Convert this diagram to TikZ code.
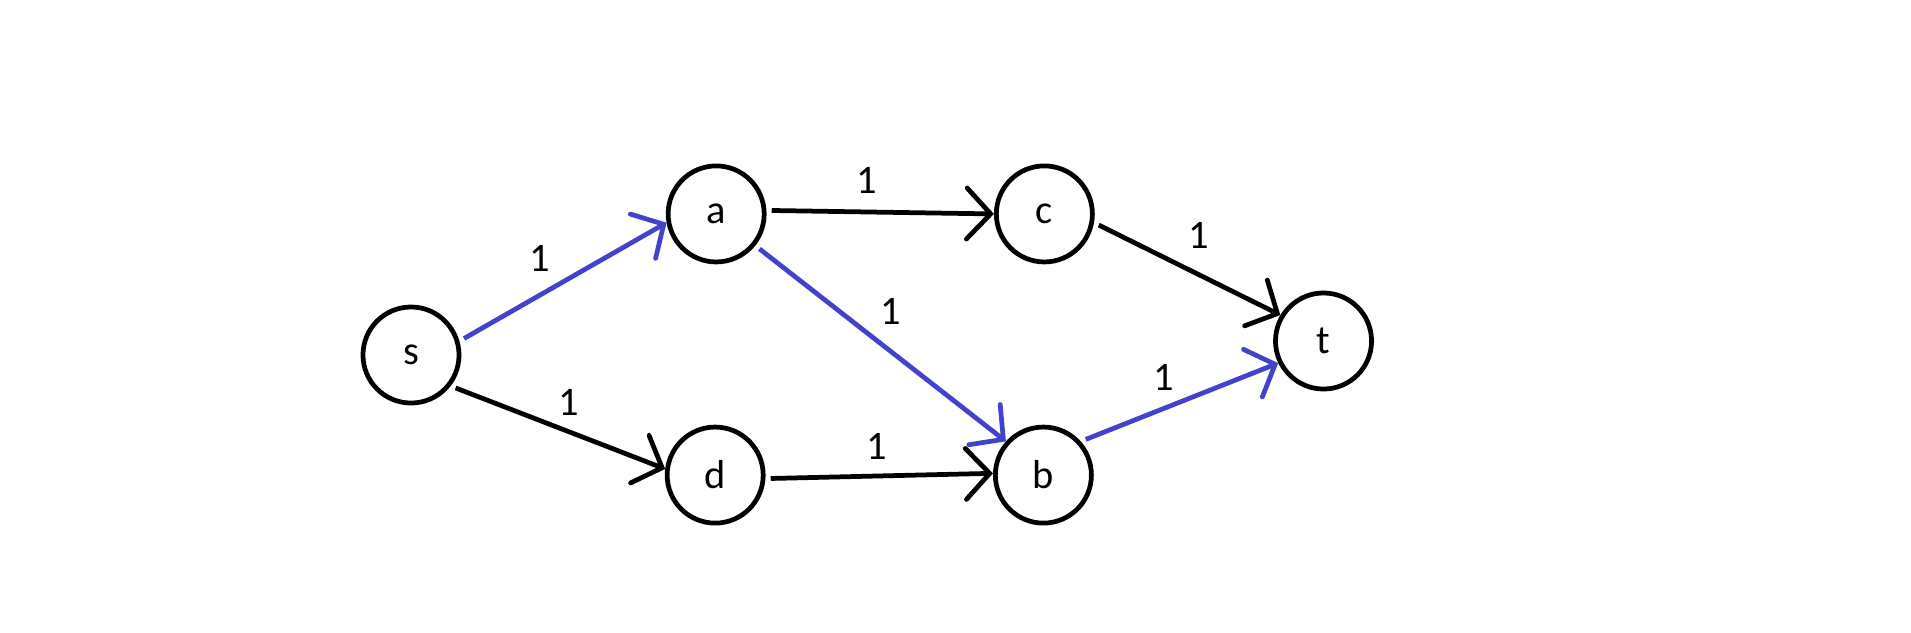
\documentclass[tikz,border=0pt]{standalone}
\usepackage{fontspec}
\setmainfont{Carlito}
\usetikzlibrary{positioning,arrows.meta}

\definecolor{pathblue}{RGB}{66,66,204}

\begin{document}
\begin{tikzpicture}[
  x=0.01cm, y=-0.01cm,
  vertex/.style={draw, circle, line width=1.35pt, minimum size=0.96cm, inner sep=0pt, font=\fontsize{11.5}{13}\selectfont},
  edge/.style={line width=1.35pt, shorten <=1.5pt, -{Straight Barb[length=6.8pt, width=14.5pt, line cap=round]}},
  flow/.style={edge, draw=pathblue},
  weight/.style={inner sep=2pt, font=\fontsize{11.5}{13}\selectfont}
]
\path[use as bounding box, fill=white] (0,0) rectangle (1911,632);

\node[vertex] (s) at (411,355) {s};
\node[vertex, on grid, above right=1.41cm and 3.05cm of s] (a) {a};
\node[vertex, on grid, below right=1.20cm and 3.04cm of s] (d) {d};
\node[vertex, on grid, right=3.28cm of a] (c) {c};
\node[vertex, on grid, right=3.28cm of d] (b) {b};
\node[vertex, on grid, below right=1.27cm and 2.79cm of c] (t) {t};

\draw[flow] (s.16) -- (a.190) node[weight, pos=0.39, above=4pt] {1};
\draw[edge] (s.-38) -- (d.173) node[weight, pos=0.55, above=2pt] {1};
\draw[edge] (a.4) -- (c.west) node[weight, pos=0.44, above=2.5pt] {1};
\draw[flow] (a.-39) -- (b.138) node[weight, pos=0.54, above=5pt] {1};
\draw[edge] (c.-10) -- (t.149) node[weight, pos=0.56, above=4.7pt] {1};
\draw[edge] (d.-4) -- (b.178) node[weight, pos=0.49, above=2pt] {1};
\draw[flow] (b.42) -- (t.206) node[weight, pos=0.42, above=2.3pt] {1};
\end{tikzpicture}
\end{document}
